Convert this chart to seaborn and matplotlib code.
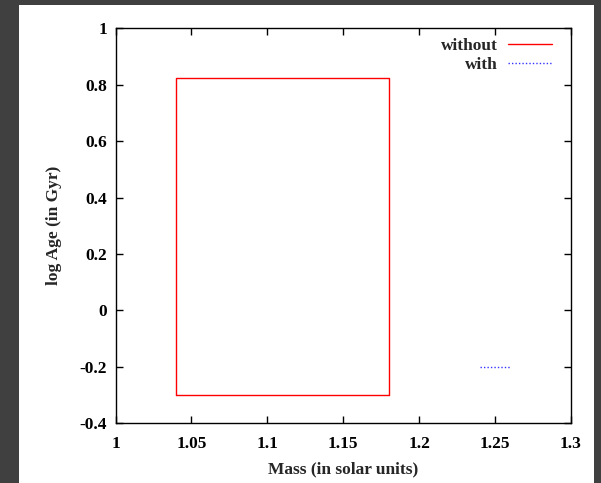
import matplotlib
matplotlib.use("Agg")
import matplotlib.pyplot as plt
import seaborn as sns
import pandas as pd
from matplotlib.patches import Rectangle

# box of the "without" case
mass_without = [1.04, 1.04, 1.18, 1.18, 1.04]
age_without = [-0.3, 0.825, 0.825, -0.3, -0.3]
# short segment of the "with" case
mass_with = [1.24, 1.26]
age_with = [-0.2, -0.2]

x_ticks = [1, 1.05, 1.1, 1.15, 1.2, 1.25, 1.3]
x_tick_labels = ['1', '1.05', '1.1', '1.15', '1.2', '1.25', '1.3']
y_ticks = [-0.4, -0.2, 0, 0.2, 0.4, 0.6, 0.8, 1]
y_tick_labels = ['-0.4', '-0.2', '0', '0.2', '0.4', '0.6', '0.8', '1']

df_without = pd.DataFrame({'mass': mass_without, 'age': age_without})
df_with = pd.DataFrame({'mass': mass_with, 'age': age_with})

sns.set_theme(style="ticks")
plt.rcParams['font.family'] = ['Liberation Serif', 'DejaVu Serif']
plt.rcParams['font.weight'] = 'bold'
plt.rcParams['xtick.direction'] = 'in'
plt.rcParams['ytick.direction'] = 'in'

fig = plt.figure(figsize=(6.01, 4.83), dpi=100)
fig.patch.set_facecolor('#404040')
# white page area
fig.patches.append(Rectangle((19 / 601, 0), (594 - 19) / 601, (483 - 5) / 483,
                             transform=fig.transFigure, facecolor='white',
                             edgecolor='none', zorder=-1))
ax = fig.add_axes([115.5 / 601, 1 - 423.3 / 483, (571 - 115.5) / 601, (423.3 - 28.3) / 483])

sns.lineplot(data=df_without, x='mass', y='age', sort=False, estimator=None,
             color='#ff0000', linewidth=1, ax=ax, label='without')
sns.lineplot(data=df_with, x='mass', y='age', sort=False, estimator=None,
             color='#3333ff', linewidth=1, linestyle=(0, (1, 1.5)), ax=ax, label='with')

ax.set_xlim(1, 1.3)
ax.set_ylim(-0.4, 1)
ax.set_xticks(x_ticks)
ax.set_xticklabels(x_tick_labels)
ax.set_yticks(y_ticks)
ax.set_yticklabels(y_tick_labels)
ax.tick_params(top=True, right=True, length=5, width=1, labelsize=12.5, colors='black')
ax.tick_params(axis='x', pad=9)
ax.tick_params(axis='y', pad=6)
for s in ax.spines.values():
    s.set_visible(True)
    s.set_linewidth(1)
    s.set_color('black')
ax.set_xlabel('Mass (in solar units)', fontsize=12.5, labelpad=7, fontweight='bold')
ax.set_ylabel('log Age (in Gyr)', fontsize=12.5, labelpad=13, fontweight='bold')

leg = ax.legend(loc='upper right', bbox_to_anchor=(0.958, 0.975), frameon=False, fontsize=12.5,
                markerfirst=False, handlelength=2.55, borderaxespad=0, borderpad=0,
                labelspacing=0.15, handletextpad=0.55)
for t in leg.get_texts():
    t.set_ha('right')
leg._legend_box.align = 'right'

fig.savefig('out.png', dpi=100, facecolor=fig.get_facecolor())
